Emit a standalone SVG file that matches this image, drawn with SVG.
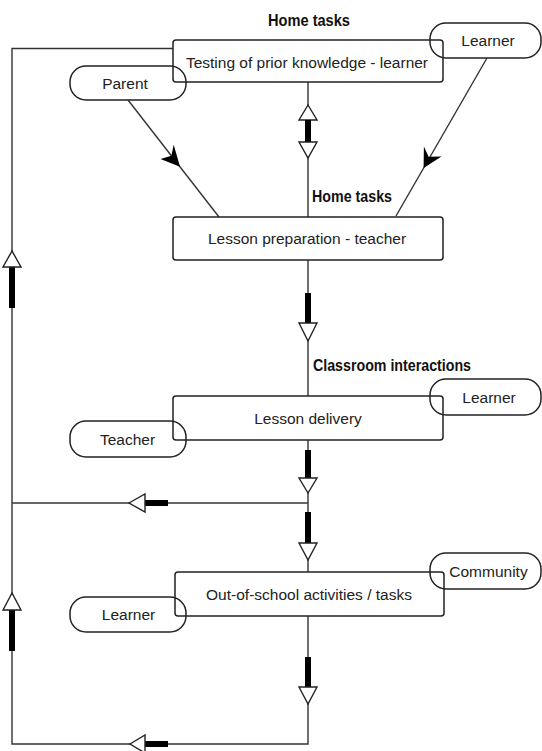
<svg xmlns="http://www.w3.org/2000/svg" width="542" height="751" viewBox="0 0 542 751">
<style>
.box{fill:none;stroke:#222;stroke-width:1.5}
.pill{fill:none;stroke:#222;stroke-width:1.5}
.ln{fill:none;stroke:#333;stroke-width:1.4}
.tri{fill:#fff;stroke:#222;stroke-width:1.4}
.bar{fill:#000}
.barb{fill:#000}
.t{font-family:"Liberation Sans",Arial,sans-serif;font-size:15.5px;fill:#222;text-anchor:middle}
.h{font-family:"Liberation Sans",Arial,sans-serif;font-size:16px;font-weight:bold;fill:#111}
</style>
<rect width="542" height="751" fill="#fff"/>
<g id="connectors">
  <line class="ln" x1="308" y1="82" x2="308" y2="217"/>
  <line class="ln" x1="308" y1="260" x2="308" y2="396"/>
  <line class="ln" x1="308" y1="440" x2="308" y2="572"/>
  <polyline class="ln" points="308,616 308,744 12,744 12,48.5 173,48.5"/>
  <line class="ln" x1="308" y1="503" x2="12" y2="503"/>
  <line class="ln" x1="128" y1="100" x2="219" y2="217"/>
  <line class="ln" x1="487" y1="58" x2="396" y2="216"/>
  <polygon class="barb" points="180,166.8 160.5,159.1 171.4,155.7 173.7,144.7"/>
  <polygon class="barb" points="423.6,168 423.9,146.4 428.6,156.7 441.5,156.5"/>
  <polygon class="tri" points="308,105 299,120 317,120"/>
  <rect class="bar" x="305" y="120" width="6" height="22"/>
  <polygon class="tri" points="299,142 317,142 308,158"/>
  <rect class="bar" x="305" y="293" width="6" height="30"/>
  <polygon class="tri" points="299,323 317,323 308,341"/>
  <rect class="bar" x="305" y="450" width="6" height="28"/>
  <polygon class="tri" points="299,478 317,478 308,493"/>
  <rect class="bar" x="305" y="512" width="6" height="31"/>
  <polygon class="tri" points="299,543 317,543 308,560"/>
  <rect class="bar" x="305" y="657" width="6" height="30"/>
  <polygon class="tri" points="299,687 317,687 308,704"/>
  <rect class="bar" x="145" y="500" width="23" height="6"/>
  <polygon class="tri" points="129,503 145,494 145,512"/>
  <rect class="bar" x="145" y="741" width="23" height="6"/>
  <polygon class="tri" points="130,744 145,735 145,753"/>
  <rect class="bar" x="9" y="267" width="6" height="41"/>
  <polygon class="tri" points="12,251 3,267 21,267"/>
  <rect class="bar" x="9" y="610" width="6" height="41"/>
  <polygon class="tri" points="12,593 3,610 21,610"/>
</g>
<g id="label-home-tasks-1"><text class="h" x="268" y="26" textLength="82" lengthAdjust="spacingAndGlyphs">Home tasks</text></g>
<g id="label-home-tasks-2"><text class="h" x="312" y="202" textLength="80" lengthAdjust="spacingAndGlyphs">Home tasks</text></g>
<g id="label-classroom"><text class="h" x="313" y="371" textLength="158" lengthAdjust="spacingAndGlyphs">Classroom interactions</text></g>
<g id="node-testing">
  <rect class="box" x="173" y="40" width="270" height="42" rx="3"/>
  <text class="t" x="307" y="67.5">Testing of prior knowledge - learner</text>
</g>
<g id="node-learner-1">
  <rect class="pill" x="430" y="23" width="111" height="35" rx="16"/>
  <text class="t" x="488" y="46">Learner</text>
</g>
<g id="node-parent">
  <rect class="pill" x="70" y="66" width="116" height="34" rx="16"/>
  <text class="t" x="125" y="88.5">Parent</text>
</g>
<g id="node-lesson-prep">
  <rect class="box" x="173" y="217" width="270" height="43" rx="3"/>
  <text class="t" x="307" y="244">Lesson preparation - teacher</text>
</g>
<g id="node-lesson-delivery">
  <rect class="box" x="173" y="396" width="270" height="44" rx="3"/>
  <text class="t" x="308" y="424">Lesson delivery</text>
</g>
<g id="node-learner-2">
  <rect class="pill" x="430" y="379" width="111" height="36" rx="16"/>
  <text class="t" x="489" y="402.5">Learner</text>
</g>
<g id="node-teacher">
  <rect class="pill" x="70" y="421" width="116" height="36" rx="16"/>
  <text class="t" x="127.5" y="444.5">Teacher</text>
</g>
<g id="node-out-of-school">
  <rect class="box" x="175" y="572" width="269" height="44" rx="3"/>
  <text class="t" x="309" y="600">Out-of-school activities / tasks</text>
</g>
<g id="node-community">
  <rect class="pill" x="430" y="553" width="111" height="36" rx="16"/>
  <text class="t" x="488.5" y="576.5">Community</text>
</g>
<g id="node-learner-3">
  <rect class="pill" x="70" y="597" width="116" height="35" rx="16"/>
  <text class="t" x="128.5" y="620">Learner</text>
</g>
</svg>
